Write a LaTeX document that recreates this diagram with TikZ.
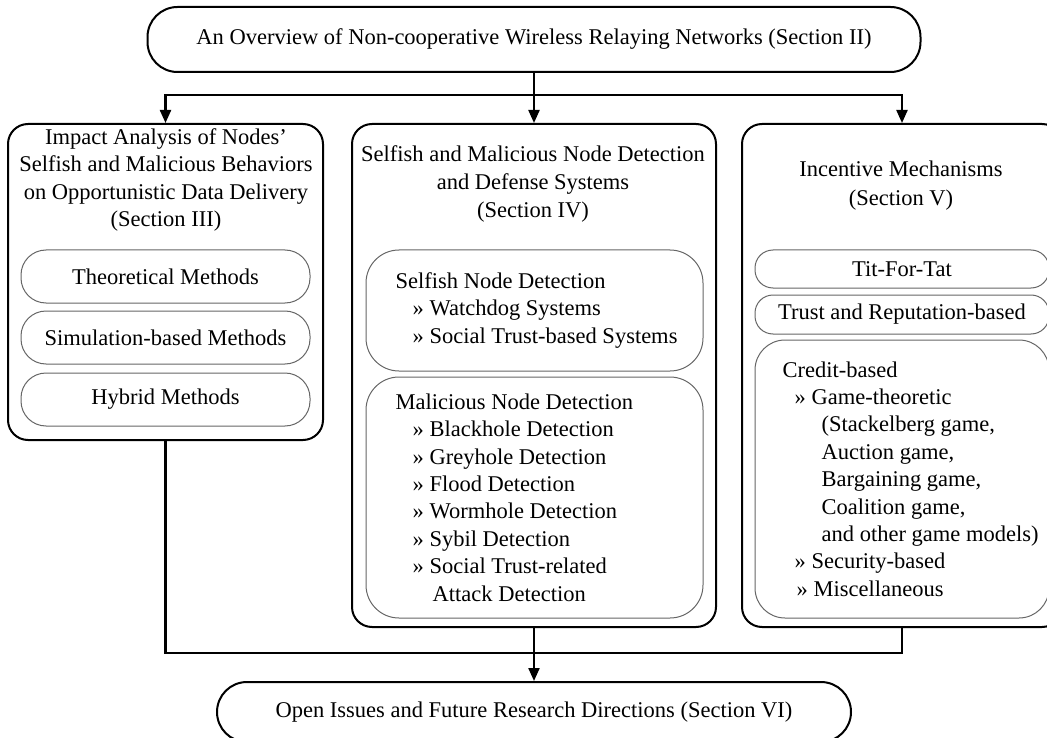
\documentclass[tikz,border=0pt]{standalone}
\usepackage{fontspec}
\setmainfont{Liberation Serif}
\usetikzlibrary{arrows.meta,positioning}

\tikzset{
  txt/.style={font=\fontsize{22.5}{27.4}\selectfont, inner sep=0pt},
  capsule/.style={draw, line width=2pt, rounded corners=30pt, inner sep=0pt, txt},
  mainbox/.style={draw, line width=2pt, rounded corners=20pt, inner sep=0pt},
  subbox/.style={draw=black!60, line width=1pt, rounded corners=25pt, inner sep=0pt, txt},
  flow/.style={line width=2.2pt},
  >={Triangle[length=13pt,width=11pt]}
}

\begin{document}
\begin{tikzpicture}[x=1pt,y=-1pt]
        \useasboundingbox (0,0) rectangle (1047,738);

        % Overview
        \node[capsule, minimum width=773pt, minimum height=65pt] (overview) at (534,39.5)
          {An Overview of Non-cooperative Wireless Relaying Networks (Section II)};

        % Section boxes
        \node[mainbox, minimum width=315pt, minimum height=316pt] (impact) at (165.5,282) {};
        \node[mainbox, minimum width=364pt, minimum height=503pt] (detect) at (534,375.5) {};
        \node[mainbox, minimum width=320pt, minimum height=503pt] (incent) at (902,375.5) {};

        % Titles
        \node[txt, align=center] (impacttitle) at (166,180)
          {Impact Analysis of Nodes’\\Selfish and Malicious Behaviors\\on Opportunistic Data Delivery\\(Section III)};
        \node[txt, align=center, font=\fontsize{22.5}{27.6}\selectfont] (detecttitle) at (533,184)
          {Selfish and Malicious Node Detection\\and Defense Systems\\(Section IV)};
        \node[txt, align=center, font=\fontsize{22.5}{29}\selectfont] (incenttitle) at (901,186)
          {Incentive Mechanisms\\(Section V)};

        % Impact analysis methods
        \node[subbox, minimum width=289pt, minimum height=53pt] (theory) at (165.5,276.5) {Theoretical Methods};
        \node[subbox, minimum width=289pt, minimum height=53pt, below=7pt of theory] (simul) {Simulation-based Methods};
        \node[subbox, minimum width=289pt, minimum height=53pt, below=8pt of simul] (hybrid) {Hybrid Methods};

        % Detection
        \node[subbox, rounded corners=33pt, minimum width=337pt, minimum height=121pt] (selfish) at (534.5,310.5) {};
        \node[subbox, rounded corners=33pt, minimum width=337pt, minimum height=241pt, below=5pt of selfish] (malicious) {};
        \node[txt, align=left, anchor=west] (selfishlist) at ([xshift=30pt]selfish.west)
          {Selfish Node Detection\\
           \hspace*{17pt}» Watchdog Systems\\
           \hspace*{17pt}» Social Trust-based Systems};
        \node[txt, align=left, anchor=west] (maliciouslist) at ([xshift=30pt]malicious.west)
          {Malicious Node Detection\\
           \hspace*{17pt}» Blackhole Detection\\
           \hspace*{17pt}» Greyhole Detection\\
           \hspace*{17pt}» Flood Detection\\
           \hspace*{17pt}» Wormhole Detection\\
           \hspace*{17pt}» Sybil Detection\\
           \hspace*{17pt}» Social Trust-related\\
           \hspace*{37pt}Attack Detection};

        % Incentives
        \node[subbox, rounded corners=18pt, minimum width=294pt, minimum height=38pt] (titfortat) at (902,269) {Tit-For-Tat};
        \node[subbox, rounded corners=18pt, minimum width=294pt, minimum height=39pt, below=6pt of titfortat] (trust) {Trust and Reputation-based};
        \node[subbox, rounded corners=30pt, minimum width=294pt, minimum height=278pt, below=5pt of trust] (credit) {};
        \node[txt, align=left, anchor=west] (creditlist) at ([xshift=28pt]credit.west)
          {Credit-based\\
           \hspace*{12pt}» Game-theoretic\\
           \hspace*{39pt}(Stackelberg game,\\
           \hspace*{39pt}Auction game,\\
           \hspace*{39pt}Bargaining game,\\
           \hspace*{39pt}Coalition game,\\
           \hspace*{39pt}and other game models)\\
           \hspace*{12pt}» Security-based\\
           \hspace*{14pt}» Miscellaneous};

        % Open issues
        \node[capsule, minimum width=634pt, minimum height=60pt] (future) at (534,712)
          {Open Issues and Future Research Directions (Section VI)};

        % Split arrows
        \coordinate (split) at (534,95);
        \draw[flow] (overview.south) -- (split);
        \draw[flow,->] (split) -| (impact.north);
        \draw[flow,->] (split) -- (detect.north);
        \draw[flow,->] (split) -| (incent.north);

        % Merge arrows
        \coordinate (merge) at (534,653);
        \draw[flow] (impact.south) |- (merge);
        \draw[flow] (incent.south) |- (merge);
        \draw[flow,->] (detect.south) -- (future.north);
\end{tikzpicture}
\end{document}
